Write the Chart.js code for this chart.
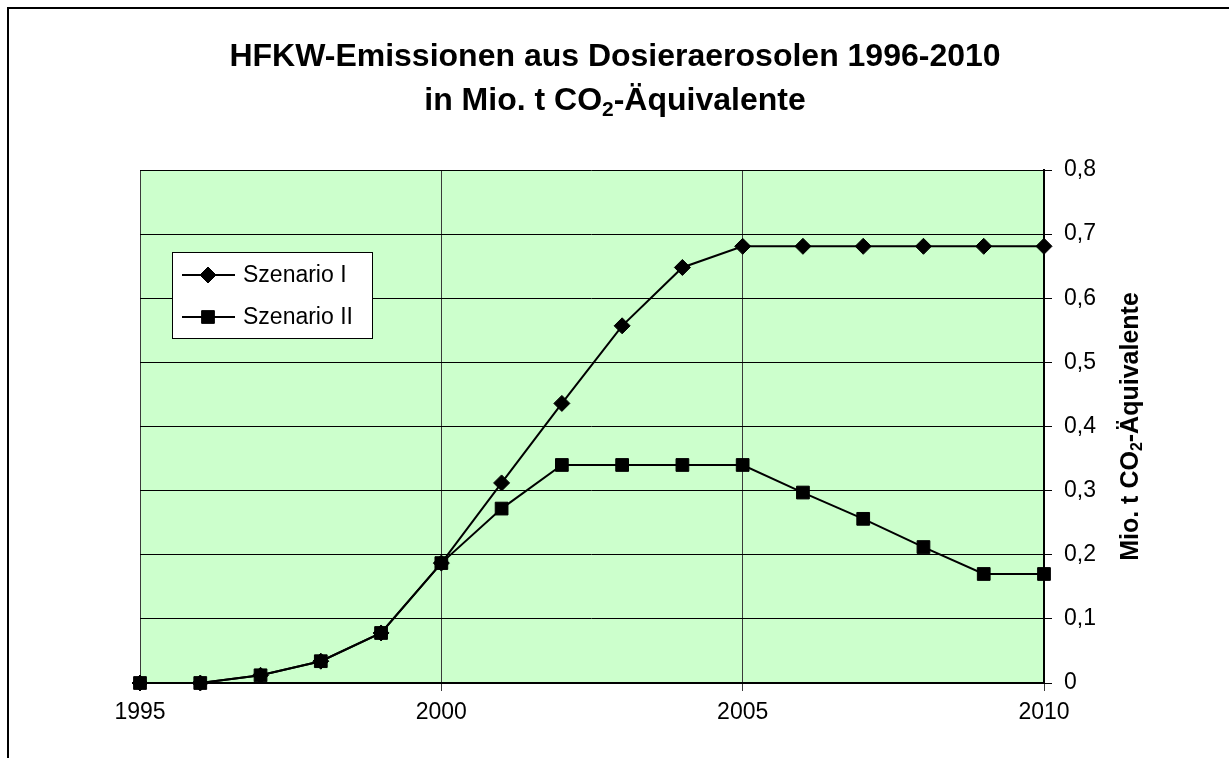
<!DOCTYPE html>
<html>
<head>
<meta charset="utf-8">
<script src="https://cdn.jsdelivr.net/npm/chart.js@4/dist/chart.umd.min.js"></script>
<style>
  html, body { margin: 0; padding: 0; background: #fff; }
  canvas { display: block; }
</style>
</head>
<body>
<canvas id="c" width="1229" height="758"></canvas>
<script>
// ---- data ----
const years = [1995, 1996, 1997, 1998, 1999, 2000, 2001, 2002, 2003, 2004, 2005, 2006, 2007, 2008, 2009, 2010];
const szenarioI  = [0, 0, 0.012, 0.034, 0.078, 0.187, 0.312, 0.436, 0.557, 0.648, 0.681, 0.681, 0.681, 0.681, 0.681, 0.681];
const szenarioII = [0, 0, 0.012, 0.034, 0.078, 0.187, 0.272, 0.340, 0.340, 0.340, 0.340, 0.297, 0.256, 0.212, 0.170, 0.170];
const seriesNames = ['Szenario I', 'Szenario II'];
const titleLine1 = 'HFKW-Emissionen aus Dosieraerosolen 1996-2010';
const titleLine2 = [['in Mio. t CO', false], ['2', true], ['-Äquivalente', false]];
const yTitle = [['Mio. t CO', false], ['2', true], ['-Äquivalente', false]];

const FONT = '"Liberation Sans", Arial, Helvetica, sans-serif';
Chart.defaults.font.family = FONT;
Chart.defaults.color = '#000';

function richWidth(ctx, parts, size) {
  let w = 0;
  for (const [t, sub] of parts) {
    ctx.font = 'bold ' + (sub ? Math.round(size * 0.65) : size) + 'px ' + FONT;
    w += ctx.measureText(t).width;
  }
  return w;
}
function drawRich(ctx, parts, cx, cy, size) {
  const total = richWidth(ctx, parts, size);
  let x = cx - total / 2;
  ctx.textAlign = 'left';
  ctx.textBaseline = 'middle';
  for (const [t, sub] of parts) {
    ctx.font = 'bold ' + (sub ? Math.round(size * 0.65) : size) + 'px ' + FONT;
    ctx.fillText(t, x, cy + (sub ? size * 0.28 : 0));
    x += ctx.measureText(t).width;
  }
}

const decorPlugin = {
  id: 'decor',
  beforeDraw(chart) {
    const ctx = chart.ctx, a = chart.chartArea;
    ctx.save();
    ctx.fillStyle = '#fff';
    ctx.fillRect(0, 0, chart.width, chart.height);
    // outer frame
    ctx.strokeStyle = '#000';
    ctx.lineWidth = 2;
    ctx.beginPath();
    ctx.moveTo(8, chart.height + 5);
    ctx.lineTo(8, 8);
    ctx.lineTo(chart.width + 5, 8);
    ctx.stroke();
    // plot background
    ctx.fillStyle = '#CCFFCC';
    ctx.fillRect(a.left, a.top, a.right - a.left, a.bottom - a.top);
    ctx.restore();
  },
  afterDraw(chart) {
    const ctx = chart.ctx, a = chart.chartArea;
    ctx.save();
    ctx.fillStyle = '#000';
    // title
    ctx.font = 'bold 32px ' + FONT;
    ctx.textAlign = 'center';
    ctx.textBaseline = 'middle';
    ctx.fillText(titleLine1, 615, 57);
    drawRich(ctx, titleLine2, 615, 101, 32);
    // y axis title (right side, rotated)
    ctx.save();
    ctx.translate(1131, (a.top + a.bottom) / 2);
    ctx.rotate(-Math.PI / 2);
    ctx.fillStyle = '#000';
    drawRich(ctx, yTitle, 0, 0, 25);
    ctx.restore();
    // legend
    const lx = 172, ly = 252, lw = 200, lh = 86;
    ctx.fillStyle = '#fff';
    ctx.fillRect(lx, ly, lw, lh);
    ctx.strokeStyle = '#000';
    ctx.lineWidth = 1;
    ctx.strokeRect(lx + 0.5, ly + 0.5, lw, lh);
    const rows = [275, 317];
    chart.data.datasets.forEach((ds, i) => {
      const y = rows[i];
      ctx.strokeStyle = '#000';
      ctx.lineWidth = 2;
      ctx.beginPath();
      ctx.moveTo(182, y);
      ctx.lineTo(235, y);
      ctx.stroke();
      ctx.fillStyle = '#000';
      ctx.lineWidth = 1;
      Chart.helpers.drawPoint(ctx, {
        pointStyle: ds.pointStyle, radius: ds.pointRadius, borderWidth: 1, rotation: 0
      }, 208, y);
      ctx.fillStyle = '#000';
      ctx.font = '23px ' + FONT;
      ctx.textAlign = 'left';
      ctx.textBaseline = 'middle';
      ctx.fillText(ds.label, 243, y + 1);
    });
    ctx.restore();
  }
};

const ctx = document.getElementById('c').getContext('2d');
new Chart(ctx, {
  type: 'line',
  data: {
    datasets: [
      {
        label: seriesNames[0],
        data: years.map((y, i) => ({ x: y, y: szenarioI[i] })),
        borderColor: '#000',
        backgroundColor: '#000',
        borderWidth: 2,
        pointStyle: 'rectRot',
        pointRadius: 8,
        pointBackgroundColor: '#000',
        pointBorderColor: '#000',
        pointBorderWidth: 1,
        tension: 0,
        clip: false
      },
      {
        label: seriesNames[1],
        data: years.map((y, i) => ({ x: y, y: szenarioII[i] })),
        borderColor: '#000',
        backgroundColor: '#000',
        borderWidth: 2,
        pointStyle: 'rect',
        pointRadius: 9,
        pointBackgroundColor: '#000',
        pointBorderColor: '#000',
        pointBorderWidth: 1,
        tension: 0,
        clip: false
      }
    ]
  },
  options: {
    responsive: false,
    animation: false,
    devicePixelRatio: 1,
    layout: { padding: { left: 140, top: 170, right: 0, bottom: 0 } },
    plugins: {
      legend: { display: false },
      title: { display: false },
      tooltip: { enabled: false }
    },
    scales: {
      x: {
        type: 'linear',
        min: 1995,
        max: 2010,
        afterFit(s) { s.height = 75; },
        ticks: {
          stepSize: 5,
          font: { size: 23 },
          color: '#000',
          padding: 8,
          maxRotation: 0,
          callback: v => String(v)
        },
        grid: { color: '#3a3a3a', lineWidth: 1, tickLength: 8, drawTicks: true },
        border: { display: true, color: '#000', width: 2 }
      },
      y: {
        position: 'right',
        min: 0,
        max: 0.8,
        afterFit(s) { s.width = 185; },
        ticks: {
          stepSize: 0.1,
          font: { size: 23 },
          color: '#000',
          padding: 12,
          callback: v => (Math.abs(v) < 1e-9 ? '0' : v.toFixed(1).replace('.', ','))
        },
        grid: { color: '#000', lineWidth: 1, tickLength: 8, drawTicks: true },
        border: { display: true, color: '#000', width: 2 }
      }
    }
  },
  plugins: [decorPlugin]
});
</script>
</body>
</html>
